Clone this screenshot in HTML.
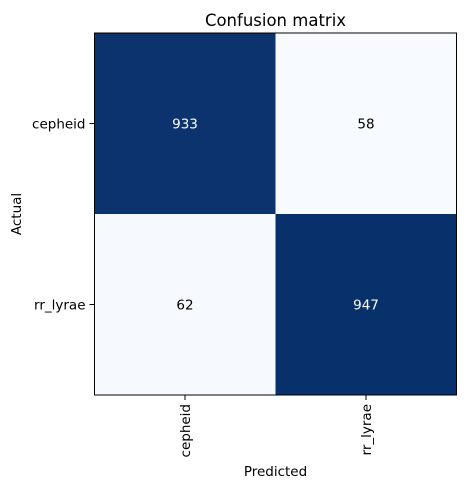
<!DOCTYPE html>
<html><head><meta charset="utf-8"><style>
body{margin:0;background:#fff;}
svg text{font-family:"DejaVu Sans","Liberation Sans",sans-serif;}
</style></head><body>
<svg id="chart" width="467" height="489" xmlns="http://www.w3.org/2000/svg">
<rect width="467" height="489" fill="#fff"/>
<text x="275.5" y="26" font-size="16.5" text-anchor="middle" fill="#000">Confusion matrix</text>
<g id="cells"></g>
<rect x="94.5" y="33" width="362" height="362" fill="none" stroke="#000" stroke-width="1"/>
<g id="axes"></g>
<text x="275.5" y="476" font-size="13.5" text-anchor="middle">Predicted</text>
<text transform="translate(21,214) rotate(-90)" font-size="13.5" text-anchor="middle">Actual</text>
</svg>
<script>
const classes = ["cepheid", "rr_lyrae"];
const rowCepheid = [933, 58];
const rowRrLyrae = [62, 947];
const matrix = [rowCepheid, rowRrLyrae];

const ns = "http://www.w3.org/2000/svg";
const L = 94.5, T = 33, S = 362;
const n = classes.length, cw = S / n;
const xPos = i => L + i * cw;
const yPos = i => T + i * cw;
let mx = -Infinity, mn = Infinity;
matrix.forEach(r => r.forEach(v => { mx = Math.max(mx, v); mn = Math.min(mn, v); }));
function blues(t){
  const a=[247,251,255], b=[8,48,107];
  return `rgb(${a.map((c,i)=>Math.round(c+(b[i]-c)*t)).join(",")})`;
}
const cells = document.getElementById("cells");
const axes = document.getElementById("axes");
matrix.forEach((row, r) => row.forEach((v, c) => {
  const t = (v - mn) / (mx - mn);
  const rect = document.createElementNS(ns, "rect");
  
  
  rect.setAttribute("x", xPos(c)); rect.setAttribute("y", yPos(r));
  rect.setAttribute("width", cw); rect.setAttribute("height", cw);
  rect.setAttribute("fill", blues(t));
  cells.appendChild(rect);
  const tx = document.createElementNS(ns, "text");
  
  
  tx.setAttribute("x", xPos(c) + cw / 2); tx.setAttribute("y", yPos(r) + cw / 2 + 5);
  tx.setAttribute("text-anchor", "middle"); tx.setAttribute("font-size", "13.5");
  tx.setAttribute("fill", t > 0.5 ? "#fff" : "#000");
  tx.textContent = v;
  cells.appendChild(tx);
}));
classes.forEach((name, i) => {
  const cx = xPos(i) + cw / 2, cy = yPos(i) + cw / 2;
  const tk = document.createElementNS(ns, "line");
  
  
  tk.setAttribute("x1", cx); tk.setAttribute("x2", cx);
  tk.setAttribute("y1", T + S); tk.setAttribute("y2", T + S + 5);
  tk.setAttribute("stroke", "#000");
  axes.appendChild(tk);
  const xl = document.createElementNS(ns, "text");
  
  
  xl.setAttribute("transform", `translate(${cx + 5},${T + S + 9}) rotate(-90)`);
  xl.setAttribute("text-anchor", "end"); xl.setAttribute("font-size", "13.5");
  xl.textContent = name;
  axes.appendChild(xl);
  const yt = document.createElementNS(ns, "line");
  
  
  yt.setAttribute("x1", L - 5); yt.setAttribute("x2", L);
  yt.setAttribute("y1", cy); yt.setAttribute("y2", cy);
  yt.setAttribute("stroke", "#000");
  axes.appendChild(yt);
  const yl = document.createElementNS(ns, "text");
  
  
  yl.setAttribute("x", L - 9); yl.setAttribute("y", cy + 5);
  yl.setAttribute("text-anchor", "end"); yl.setAttribute("font-size", "13.5");
  yl.textContent = name;
  axes.appendChild(yl);
});
</script>
</body></html>
